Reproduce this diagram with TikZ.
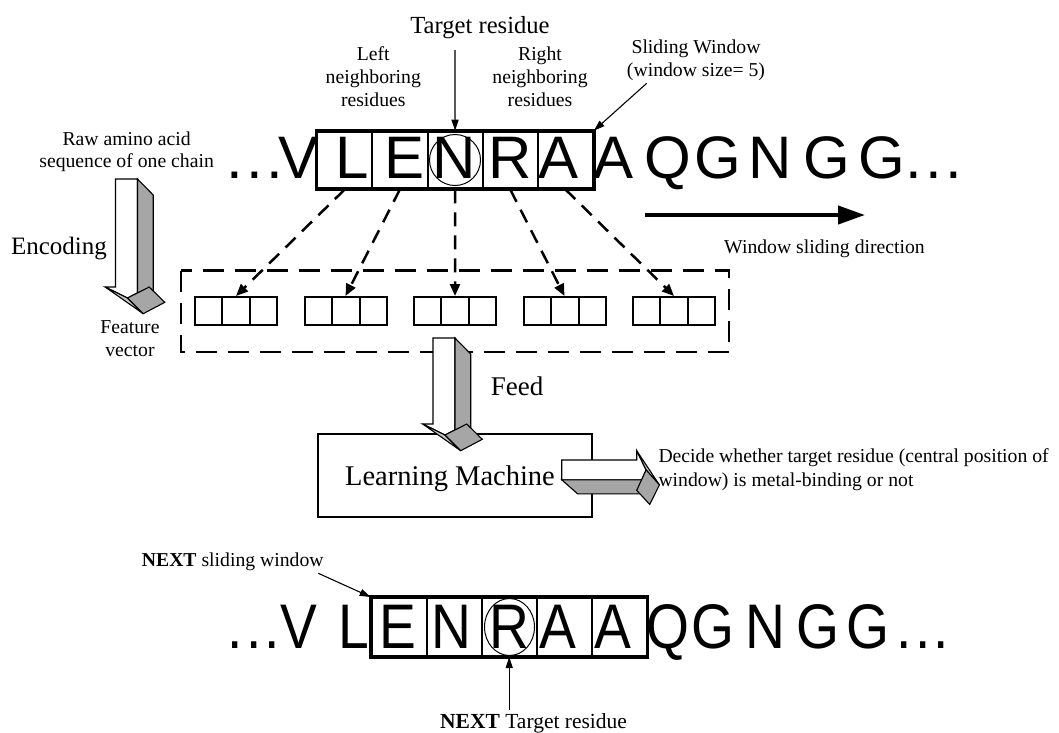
\documentclass[tikz,border=0pt]{standalone}
\usepackage{fontspec}
\usepackage{graphicx}
\setmainfont{Liberation Serif}
\newfontfamily\seqfont{Liberation Sans}
\usetikzlibrary{arrows.meta,calc,shapes.geometric}
\definecolor{sidegray}{RGB}{166,166,166}
\definecolor{facegray}{RGB}{200,200,200}
\newcommand\sdots{.\kern3.5pt.\kern3.5pt.}
\tikzset{
  lbl/.style={font=\fontsize{19.7}{23}\selectfont, inner sep=0, anchor=base},
  seqch/.style={font=\seqfont\fontsize{60}{60}\selectfont, inner sep=0, anchor=base},
  cell/.style={draw, line width=2, minimum width=55.1, minimum height=56.6, inner sep=0},
  fvbox/.style={draw, line width=2, minimum width=82, minimum height=28, inner sep=0},
  dasharrow/.style={line width=2.5, dash pattern=on 14pt off 9pt, -{Triangle[length=12pt,width=10pt]}},
  thinarrow/.style={line width=1.1, -{Triangle[length=11pt,width=7pt]}},
  blockline/.style={line width=1.1, line join=miter},
}
% 3-D block arrow pointing down: #1 = shaft left x, #2 = top y, #3 = head y
\newcommand\downblock[3]{%
  \draw[blockline,fill=white] (#1,#2) -- (#1+22,#2) -- (#1+22,#3+5.9) -- (#1+12,#3+11) -- (#1-10.3,#3) -- (#1,#3) -- cycle;
  \draw[blockline,fill=sidegray] (#1+22,#2) -- (#1+37.7,#2+16) -- (#1+37.7,#3+3.9) -- (#1+22,#3+5.9) -- cycle;
  \draw[blockline,fill=facegray] (#1-10.3,#3) -- (#1+12,#3+11) -- (#1+27.7,#3+26.7) -- cycle;
  \draw[blockline,fill=sidegray] (#1+12,#3+11) -- (#1+33.7,#3) -- (#1+49.3,#3+15.3) -- (#1+27.7,#3+26.7) -- cycle;
}
\begin{document}
\begin{tikzpicture}[x=1pt,y=-1pt]
\fill[white] (0,0) rectangle (1059,732);
\useasboundingbox (0,0) rectangle (1059,732);

% ---------- top labels ----------
\node[font=\fontsize{24.6}{28}\selectfont, inner sep=0, anchor=base] (tgt) at (480,33) {Target residue};
\node[lbl] (ln1) at (373.3,60) {Left};
\node[lbl] (ln2) at (373.3,83.3) {neighboring};
\node[lbl] (ln3) at (373.3,106.7) {residues};
\node[lbl] (rn1) at (540,60) {Right};
\node[lbl] (rn2) at (540,83.3) {neighboring};
\node[lbl] (rn3) at (540,106.7) {residues};
\node[lbl] (sw1) at (696,53.3) {Sliding Window};
\node[lbl] (sw2) at (696,76.7) {(window size= 5)};

% ---------- top sequence ----------
\foreach \i/\x in {1/344.85,2/399.95,3/455.05,4/510.15,5/565.25}
  \node[cell] (c\i) at (\x,160) {};
\draw[line width=3.5] (c1.north west) rectangle (c5.south east);
\node[circle,draw,line width=1,minimum size=51,inner sep=0] (circ) at (455,160) {};
\foreach \x/\t [count=\k] in {255/\sdots,299/V,352.5/L,405/E,454.2/N,509.8/R,558.3/A,613.3/A,668/Q,717.5/G,770.5/N,826.7/G,881.7/G,934/\sdots}
  \node[seqch] (t\k) at (\x,178.3) {\t};

\coordinate (tra) at (455,50);
\draw[thinarrow] (tra) -- (c3.north);
\coordinate (swa) at (646.7,83.3);
\draw[thinarrow] (swa) -- (c5.north east);

\coordinate (wd1) at (645,215);
\coordinate (wd2) at (865,215);
\draw[line width=4,-{Triangle[length=27pt,width=18pt]}] (wd1) -- (wd2);
\node[lbl] (wdt) at (824.5,253) {Window sliding direction};

% ---------- left side ----------
\node[lbl] (raw1) at (126.6,145.2) {Raw amino acid};
\node[lbl] (raw2) at (126.6,167.8) {sequence of one chain};
\node[font=\fontsize{25}{30}\selectfont, inner sep=0, anchor=base] (enc) at (59,254) {Encoding};
\downblock{115.5}{179}{287}
\node[lbl] (fv1) at (130,333.3) {Feature};
\node[lbl] (fv2) at (130,356.7) {vector};

% ---------- feature vectors ----------
\draw[line width=2.5, dash pattern=on 21pt off 11pt] (181,270.5) rectangle (729,352);
\foreach \i in {1,...,5} {
  \pgfmathsetmacro\fx{236+109.5*(\i-1)}
  \node[fvbox] (f\i) at (\fx,311) {};
  \draw[line width=2] ($(f\i.north west)!1/3!(f\i.north east)$) -- ($(f\i.south west)!1/3!(f\i.south east)$);
  \draw[line width=2] ($(f\i.north west)!2/3!(f\i.north east)$) -- ($(f\i.south west)!2/3!(f\i.south east)$);
  \draw[dasharrow] (c\i.south) -- (f\i.north);
}

% ---------- learning machine ----------
\node[draw,line width=1.1,minimum width=274,minimum height=83,inner sep=0] (lm) at (455,475.5) {};
\node[font=\fontsize{28.5}{32}\selectfont, inner sep=0, anchor=base] (lmt) at (450,485) {Learning Machine};
\downblock{433}{338}{424}
\node[font=\fontsize{27}{30}\selectfont, inner sep=0, anchor=base] (feed) at (517,395) {Feed};

% right-pointing 3-D block arrow
\draw[blockline,fill=white] (561.7,460) -- (636.7,460) -- (636.7,450.7) -- (646.1,469.9) -- (641.7,479.8) -- (561.7,479.8) -- cycle;
\draw[blockline,fill=sidegray] (561.7,479.8) -- (577.7,493.9) -- (640,493.9) -- (641.7,479.8) -- cycle;
\draw[blockline,fill=facegray] (636.7,450.7) -- (646.1,469.9) -- (659.4,484.9) -- cycle;
\draw[blockline,fill=sidegray] (646.1,469.9) -- (636.7,490.3) -- (649.7,504.4) -- (659.4,484.9) -- cycle;

\node[lbl,anchor=base west] (dec1) at (658.3,462) {Decide whether target residue (central position of};
\node[lbl,anchor=base west] (dec2) at (658.3,486) {window) is metal-binding or not};

% ---------- bottom sequence ----------
\node[lbl,anchor=base west] (nsw) at (141.7,566.7) {\textbf{NEXT} sliding window};
\foreach \i/\x in {1/399.2,2/454.2,3/509.2,4/564.2,5/619.2}
  \node[cell,minimum width=55,minimum height=58] (b\i) at (\x,627) {};
\draw[line width=3.5] (b1.north west) rectangle (b5.south east);
\node[ellipse,draw,line width=1,minimum width=50,minimum height=57,inner sep=0] (bell) at (509.5,627) {};
\foreach \x/\t [count=\k] in {254/\sdots,299/V,354/L,398.3/E,451.7/N,509/R,558.3/A,612.5/A,668.3/Q,712.5/G,765.8/N,818.3/G,867.5/G,923/\sdots}
  \node[seqch] (u\k) at (\x,648) {\scalebox{0.92}[1.05]{\t}};

\coordinate (nsa) at (318.3,573.3);
\draw[thinarrow] (nsa) -- (b1.north west);
\coordinate (nta) at (509.2,710);
\draw[thinarrow] (nta) -- (b3.south);
\node[font=\fontsize{21.5}{24}\selectfont, inner sep=0, anchor=base west] (ntt) at (440,728) {\textbf{NEXT} Target residue};
\end{tikzpicture}
\end{document}
